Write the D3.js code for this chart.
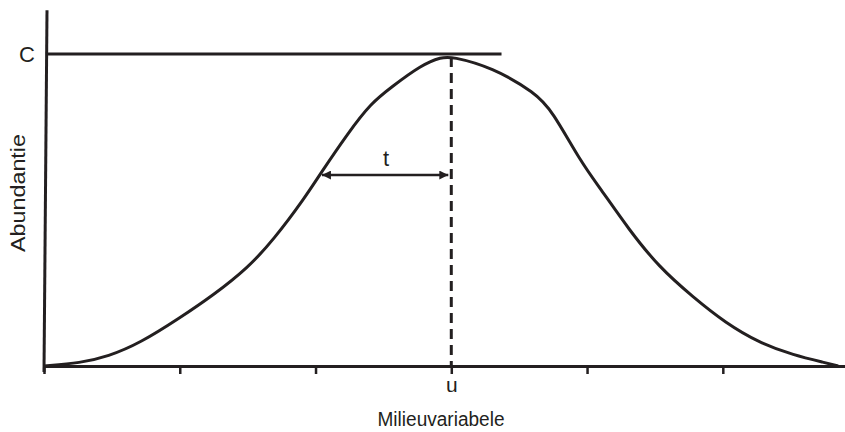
<!DOCTYPE html>
<html>
<head>
<meta charset="utf-8">
<script src="https://cdn.jsdelivr.net/npm/d3@7"></script>
<style>
  html, body { margin: 0; padding: 0; background: #fff; }
  svg { display: block; }
  text { font-family: "Liberation Sans", Arial, sans-serif; fill: #231f20; }
</style>
</head>
<body>
<svg id="chart" width="845" height="432"></svg>
<script>
// ---- data ----
const xTicks = [0, 1, 2, 3, 4, 5];
const xTickLabels = ["", "", "", "u", "", ""];
const curveX = [0, 0.27, 0.47, 0.71, 1.0, 1.25, 1.50, 1.69, 1.92, 2.04, 2.24, 2.41, 2.56, 2.78, 2.93, 3.0,
                3.30, 3.62, 3.74, 3.96, 4.09, 4.31, 4.53, 4.78, 5.02, 5.27, 5.52, 5.76, 5.85];
const curveY = [0, 0.01, 0.03, 0.074, 0.154, 0.228, 0.314, 0.404, 0.538, 0.619, 0.747, 0.843, 0.894, 0.965, 0.99, 0.992,
                0.958, 0.875, 0.82, 0.65, 0.574, 0.436, 0.317, 0.221, 0.138, 0.074, 0.035, 0.01, 0];
const optimumU = 3.0;
const maxC = 1.0;
const peakValue = 0.99;
const tolerance = 0.96;
const toleranceLevel = 0.612;
const cLineEnd = 3.37;
const xMax = 5.90;
const yMax = 1.14;
const yAxisLabel = "Abundantie";
const xAxisLabel = "Milieuvariabele";
const cLabel = "C";
const tLabel = "t";

// ---- drawing ----
const ink = "#231f20";
const svg = d3.select("#chart");
const x = d3.scaleLinear().domain([0, xMax]).range([44, 845]);
const y = d3.scaleLinear().domain([0, maxC]).range([366, 54]);

const defs = svg.append("defs");
defs.append("marker").attr("id", "ah").attr("viewBox", "0 0 10 10")
  .attr("refX", 10).attr("refY", 5).attr("markerWidth", 12).attr("markerHeight", 9)
  .attr("markerUnits", "userSpaceOnUse").attr("orient", "auto-start-reverse")
  .append("path").attr("d", "M0,0 L10,5 L0,10 Z").attr("fill", ink);

// x axis
const xAxis = d3.axisBottom(x).tickValues(xTicks).tickFormat((d, i) => xTickLabels[i])
  .tickSize(8).tickSizeOuter(0);
const gx = svg.append("g").attr("transform", `translate(0,${y(0)})`).call(xAxis);
gx.select(".domain").attr("stroke", ink).attr("stroke-width", 3);
gx.selectAll(".tick line").attr("stroke", ink).attr("stroke-width", 2.5);
gx.selectAll(".tick text").attr("y", 26).attr("dy", 0)
  .attr("font-size", 21).attr("font-family", '"Liberation Sans", Arial, sans-serif')
  .attr("fill", ink);

// y axis (slightly slanted line, as in the original)
svg.append("line")
  .attr("x1", x(0)).attr("y1", y(0) + 6)
  .attr("x2", x(0) + 3).attr("y2", y(yMax))
  .attr("stroke", ink).attr("stroke-width", 3);

// C line
svg.append("line")
  .attr("x1", x(0) + 2.5).attr("x2", x(cLineEnd))
  .attr("y1", y(maxC)).attr("y2", y(maxC))
  .attr("stroke", ink).attr("stroke-width", 3);

// curve
const pts = curveX.map((d, i) => [d, curveY[i]]);
svg.append("path").datum(pts)
  .attr("d", d3.line().x(d => x(d[0])).y(d => y(d[1])).curve(d3.curveBasis))
  .attr("fill", "none").attr("stroke", ink).attr("stroke-width", 3);

// dashed optimum line
svg.append("line")
  .attr("x1", x(optimumU)).attr("x2", x(optimumU))
  .attr("y1", y(peakValue)).attr("y2", y(0))
  .attr("stroke", ink).attr("stroke-width", 3).attr("stroke-dasharray", "10,6");

// tolerance arrow
svg.append("line")
  .attr("x1", x(optimumU - tolerance) + 1).attr("x2", x(optimumU) - 3)
  .attr("y1", y(toleranceLevel)).attr("y2", y(toleranceLevel))
  .attr("stroke", ink).attr("stroke-width", 2.5)
  .attr("marker-start", "url(#ah)").attr("marker-end", "url(#ah)");

svg.append("text").attr("x", x(optimumU - tolerance / 2)).attr("y", y(toleranceLevel) - 9)
  .attr("text-anchor", "middle").attr("font-size", 22).text(tLabel);

// labels
svg.append("text").attr("x", 27).attr("y", y(maxC) + 8)
  .attr("text-anchor", "middle").attr("font-size", 22).text(cLabel);

svg.append("text").attr("x", 441).attr("y", 426)
  .attr("text-anchor", "middle").attr("font-size", 20)
  .attr("textLength", 127).attr("lengthAdjust", "spacingAndGlyphs").text(xAxisLabel);

svg.append("text").attr("transform", `translate(25,${193}) rotate(-90)`)
  .attr("text-anchor", "middle").attr("font-size", 20)
  .attr("textLength", 118).attr("lengthAdjust", "spacingAndGlyphs").text(yAxisLabel);
</script>
</body>
</html>
